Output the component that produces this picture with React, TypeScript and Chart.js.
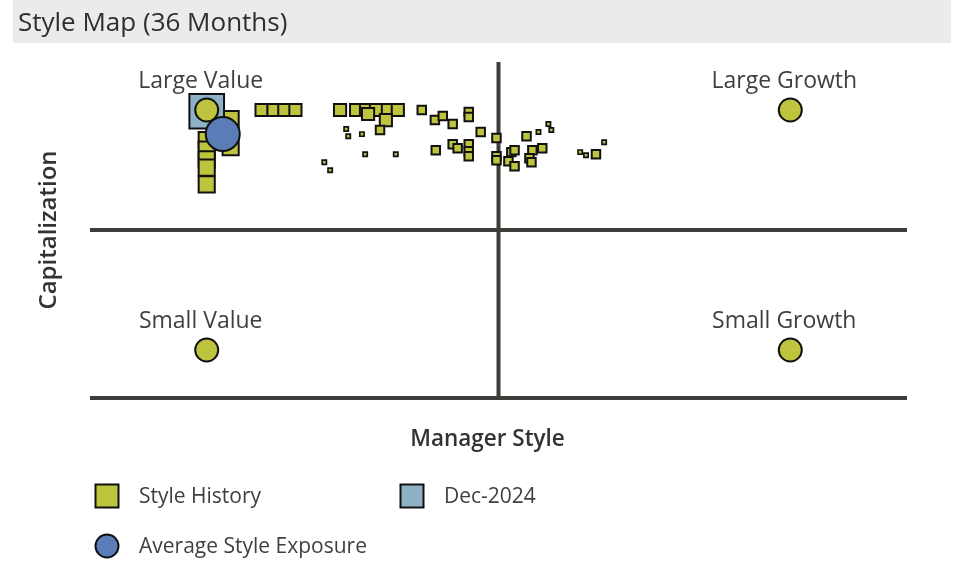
import React, { useEffect, useRef } from "react";
import { Chart, registerables } from "chart.js";

Chart.register(...registerables);

// ---------- data ----------
const TITLE = "Style Map (36 Months)";
const X_TITLE = "Manager Style";
const Y_TITLE = "Capitalization";

const cornerLabels = ["Large Value", "Large Growth", "Small Value", "Small Growth"];
const cornerX = [-1, 1, -1, 1];
const cornerY = [1, 1, -1, -1];

// Style history (older points are smaller: tier 1 = oldest ... 4 = most recent)
const historyX = [
  -0.918, -0.918, -1.0, -1.0, -1.0, -1.0, -1.0,
  -0.812, -0.771, -0.734, -0.696,
  -0.543, -0.488, -0.454, -0.42, -0.379, -0.345, -0.447, -0.386, -0.406,
  -0.263, -0.218, -0.191, -0.157, -0.102, -0.102, -0.061, -0.007, -0.215,
  -0.157, -0.14, -0.102, -0.102, -0.102, -0.007, -0.007, 0.096, 0.15,
  0.116, 0.106, 0.113, 0.044, 0.034, 0.055, 0.055, 0.334,
  -0.522, -0.515, -0.468, -0.457, -0.352, -0.597, -0.577, 0.137, 0.171,
  0.181, 0.362, 0.28, 0.3,
];
const historyY = [
  0.925, 0.69, 0.75, 0.67, 0.59, 0.52, 0.38,
  1.0, 1.0, 1.0, 1.0,
  1.0, 1.0, 1.0, 1.0, 1.0, 1.0, 0.967, 0.916, 0.833,
  1.0, 0.916, 0.95, 0.883, 0.983, 0.941, 0.816, 0.766, 0.665,
  0.715, 0.682, 0.715, 0.657, 0.615, 0.615, 0.582, 0.782, 0.682,
  0.665, 0.598, 0.565, 0.649, 0.573, 0.531, 0.665, 0.632,
  0.841, 0.782, 0.799, 0.632, 0.632, 0.565, 0.498, 0.816, 0.883,
  0.833, 0.732, 0.649, 0.623,
];
const historyTier = [
  4, 4, 4, 4, 4, 4, 4,
  3, 3, 3, 3,
  3, 3, 3, 3, 3, 3, 3, 3, 2,
  2, 2, 2, 2, 2, 2, 2, 2, 2,
  2, 2, 2, 2, 2, 2, 2, 2, 2,
  2, 2, 2, 2, 2, 2, 2, 2,
  1, 1, 1, 1, 1, 1, 1, 1, 1,
  1, 1, 1, 1,
];

const latestLabel = "Dec-2024";
const latestX = [-1.0];
const latestY = [0.99];

const averageLabel = "Average Style Exposure";
const averageX = [-0.945];
const averageY = [0.8];

const historyLabel = "Style History";

const AXIS_MIN = -1.4;
const AXIS_MAX = 1.4;

// ---------- styles ----------
const GREEN = "#bfc43f";
const BLUE_GREY = "#8fb1c6";
const BLUE = "#5a7db8";
const LINE = "#3c3c39";
const TEXT = "#3f3f3f";
const FONT = "'Open Sans', 'Noto Sans', sans-serif";
const tierRadius = [0, 3.0, 6.0, 8.6, 11.4];
const tierBorder = [0, 1.7, 2, 2, 2];

const decoPlugin = {
  id: "styleMapDeco",
  beforeDraw(chart: any) {
    const ctx = chart.ctx;
    ctx.save();
    ctx.fillStyle = "#ffffff";
    ctx.fillRect(0, 0, chart.width, chart.height);
    ctx.fillStyle = "#ebebeb";
    ctx.fillRect(13, 0, 938, 43);
    ctx.fillStyle = "#2f2f2f";
    ctx.font = `26px ${FONT}`;
    ctx.textBaseline = "alphabetic";
    ctx.textAlign = "left";
    ctx.fillText(TITLE, 18, 31);
    ctx.restore();
  },
  beforeDatasetsDraw(chart: any) {
    const ctx = chart.ctx;
    const xs = chart.scales.x;
    const ys = chart.scales.y;
    const { left, right, top, bottom } = chart.chartArea;
    ctx.save();
    ctx.strokeStyle = LINE;
    ctx.lineWidth = 4;
    ctx.lineCap = "butt";
    const x0 = xs.getPixelForValue(0);
    const y0 = ys.getPixelForValue(0);
    const yb = ys.getPixelForValue(AXIS_MIN);
    ctx.beginPath();
    ctx.moveTo(x0, top);
    ctx.lineTo(x0, bottom);
    ctx.moveTo(left, y0);
    ctx.lineTo(right, y0);
    ctx.moveTo(left, yb);
    ctx.lineTo(right, yb);
    ctx.stroke();

    // quadrant labels
    ctx.fillStyle = TEXT;
    ctx.font = `23px ${FONT}`;
    ctx.textAlign = "center";
    ctx.textBaseline = "alphabetic";
    cornerLabels.forEach((lab, i) => {
      const px = xs.getPixelForValue(cornerX[i]) - 6;
      const py = ys.getPixelForValue(cornerY[i]) - 22;
      ctx.fillText(lab, px, py);
    });

    // axis titles
    ctx.font = `600 22.5px ${FONT}`;
    ctx.fillStyle = "#333333";
    ctx.fillText(X_TITLE, (left + right) / 2 - 11, bottom + 48);
    ctx.save();
    ctx.font = `600 24px ${FONT}`;
    ctx.translate(56, (top + bottom) / 2);
    ctx.rotate(-Math.PI / 2);
    ctx.fillText(Y_TITLE, 0, 0);
    ctx.restore();
    ctx.restore();
  },
  afterDraw(chart: any) {
    const ctx = chart.ctx;
    ctx.save();
    const items = [
      { label: historyLabel, fill: GREEN, shape: "rect", x: 107, y: 496 },
      { label: latestLabel, fill: BLUE_GREY, shape: "rect", x: 412, y: 496 },
      { label: averageLabel, fill: BLUE, shape: "circle", x: 107, y: 546 },
    ];
    items.forEach((it) => {
      ctx.fillStyle = it.fill;
      ctx.strokeStyle = "#111111";
      ctx.lineWidth = 2;
      ctx.beginPath();
      if (it.shape === "rect") {
        ctx.rect(it.x - 11.5, it.y - 11.5, 23, 23);
      } else {
        ctx.arc(it.x, it.y, 11.5, 0, Math.PI * 2);
      }
      ctx.fill();
      ctx.stroke();
      ctx.fillStyle = TEXT;
      ctx.font = `21px ${FONT}`;
      ctx.textAlign = "left";
      ctx.textBaseline = "middle";
      ctx.fillText(it.label, it.x + 32, it.y + 1);
    });
    ctx.restore();
  },
};

export default function App() {
  const ref = useRef<HTMLCanvasElement | null>(null);
  useEffect(() => {
    document.body.style.margin = "0";
    if (!ref.current) return;
    const toPts = (xs: number[], ys: number[]) => xs.map((x, i) => ({ x, y: ys[i] }));
    const chart = new Chart(ref.current, {
      type: "scatter",
      data: {
        datasets: [
          {
            label: averageLabel,
            data: toPts(averageX, averageY),
            pointStyle: "circle",
            pointRadius: 17,
            backgroundColor: BLUE,
            borderColor: "#111111",
            borderWidth: 2,
            order: 0,
          },
          {
            label: "Corners",
            data: toPts(cornerX, cornerY),
            pointStyle: "circle",
            pointRadius: 11.5,
            backgroundColor: GREEN,
            borderColor: "#111111",
            borderWidth: 2,
            order: 1,
          },
          {
            label: latestLabel,
            data: toPts(latestX, latestY),
            pointStyle: "rect",
            pointRadius: 24.5,
            backgroundColor: BLUE_GREY,
            borderColor: "#111111",
            borderWidth: 2,
            order: 2,
          },
          {
            label: historyLabel,
            data: toPts(historyX, historyY),
            pointStyle: "rect",
            pointRadius: historyTier.map((t) => tierRadius[t]),
            backgroundColor: GREEN,
            borderColor: "#111111",
            borderWidth: historyTier.map((t) => tierBorder[t]),
            order: 3,
          },
        ],
      },
      options: {
        responsive: false,
        animation: false,
        events: [],
        layout: { padding: { left: 90, right: 52, top: 62, bottom: 165 } },
        scales: {
          x: { type: "linear", min: AXIS_MIN, max: AXIS_MAX, display: false },
          y: { type: "linear", min: AXIS_MIN, max: AXIS_MAX, display: false },
        },
        plugins: {
          legend: { display: false },
          title: { display: false },
          tooltip: { enabled: false },
        },
        elements: { point: { hoverRadius: 0 } },
      },
      plugins: [decoPlugin],
    });
    return () => chart.destroy();
  }, []);
  return (
    <div style={{ width: 959, height: 563, position: "relative" }}>
      <canvas ref={ref} width={959} height={563} style={{ width: 959, height: 563, display: "block" }} />
    </div>
  );
}
